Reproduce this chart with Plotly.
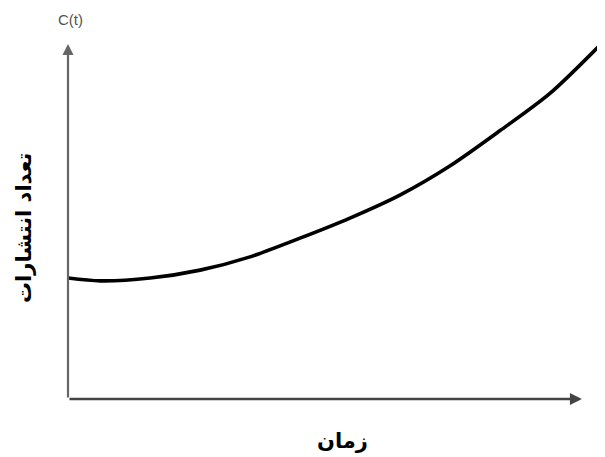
import plotly.graph_objects as go

# Curve values (time, publications)
t_vals = [0, 0.60, 1.53, 2.46, 3.39, 4.32, 5.25, 6.18, 7.11, 8.04, 8.98, 10.0]
c_vals = [3.37, 3.29, 3.37, 3.59, 3.96, 4.48, 5.04, 5.68, 6.49, 7.47, 8.52, 10.0]

x_label = "زمان"
y_label = "تعداد انتشارات"
top_label = "C(t)"

# page offset of plotly's default body margin
OFF = 8
L, T, B_PAGE, R_PAGE = 68, 40, 399, 605
PW, PH = R_PAGE - L, B_PAGE - T


def px(xp):
    return (xp - L) / PW


def py(yp):
    return (B_PAGE - yp) / PH


fig = go.Figure()
fig.add_trace(go.Scatter(x=t_vals, y=c_vals, mode="lines",
                         line=dict(color="#000000", width=3.6, shape="spline", smoothing=0.8),
                         hoverinfo="skip", showlegend=False, cliponaxis=False))

# axis arrows
fig.add_annotation(x=0, y=9.89, ax=0, ay=0, xref="x", yref="y", axref="x", ayref="y",
                   showarrow=True, arrowhead=2, arrowsize=1, arrowwidth=2.2,
                   arrowcolor="#666666", text="")
fig.add_annotation(x=9.57, y=0, ax=0, ay=0, xref="x", yref="y", axref="x", ayref="y",
                   showarrow=True, arrowhead=2, arrowsize=1, arrowwidth=2.4,
                   arrowcolor="#444444", text="")

fig.add_annotation(x=px(70), y=py(20), xref="paper", yref="paper", text=top_label,
                   showarrow=False, xanchor="center", yanchor="middle",
                   font=dict(family="Liberation Sans, Arial", size=15, color="#555555"))

fig.add_annotation(x=px(23), y=py(228), xref="paper", yref="paper",
                   text="<b>" + y_label + "</b>", showarrow=False, textangle=-90,
                   xanchor="center", yanchor="middle",
                   font=dict(family="DejaVu Serif, DejaVu Sans", size=21, color="#000000"))
fig.add_annotation(x=px(342), y=py(440), xref="paper", yref="paper",
                   text="<b>" + x_label + "</b>", showarrow=False,
                   xanchor="center", yanchor="middle",
                   font=dict(family="DejaVu Serif, DejaVu Sans", size=21, color="#000000"))

fig.update_xaxes(range=[0, 10], visible=False, fixedrange=True)
fig.update_yaxes(range=[0, 10], visible=False, fixedrange=True)
fig.update_layout(width=605 - OFF, height=457 - OFF,
                  margin=dict(l=L - OFF, r=0, t=T - OFF, b=(457 - OFF) - (B_PAGE - OFF)),
                  plot_bgcolor="white", paper_bgcolor="white", showlegend=False)

fig.write_html("out.html", config={"displayModeBar": False})
